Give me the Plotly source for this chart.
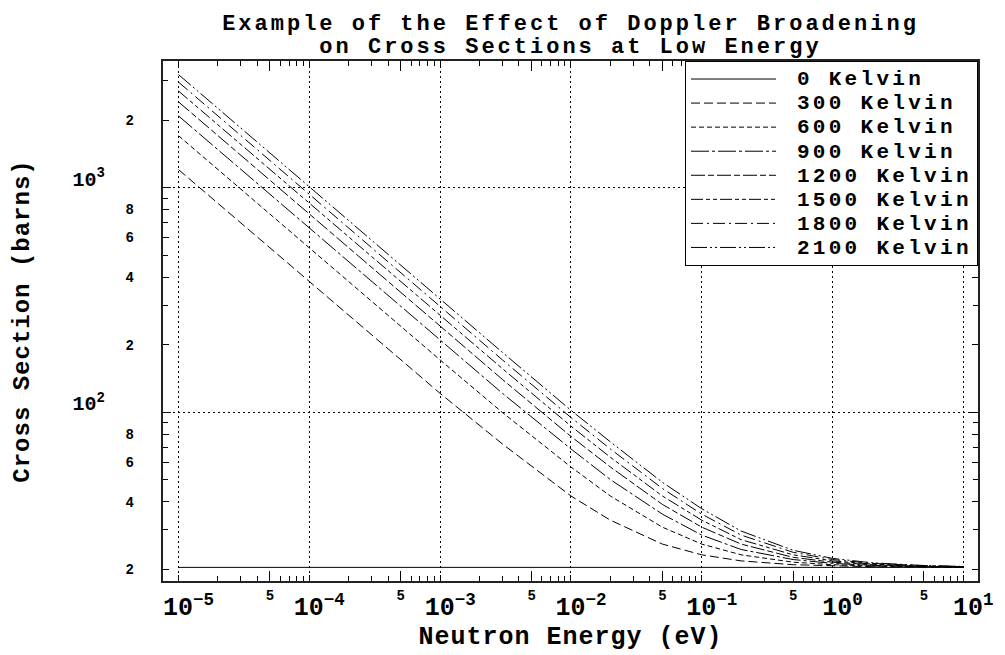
import plotly.graph_objects as go

# ---------------- data ----------------
energy_ev = [1e-5, 1e-4, 1e-3, 3e-3, 0.01, 0.02, 0.05, 0.1, 0.2, 0.5, 1, 2, 5, 10]

labels = ["0 Kelvin", "300 Kelvin", "600 Kelvin", "900 Kelvin",
          "1200 Kelvin", "1500 Kelvin", "1800 Kelvin", "2100 Kelvin"]

sig_0k = [20.4, 20.4, 20.4, 20.4, 20.4, 20.4, 20.4, 20.4, 20.4, 20.4, 20.4, 20.4, 20.4, 20.4]
sig_300k = [1204, 381.5, 121.4, 72.2, 42.4, 33.1, 25.9, 23.2, 21.8, 20.96, 20.67, 20.54, 20.45, 20.43]
sig_600k = [1704, 539, 171.0, 99.7, 57.1, 42.4, 30.8, 25.9, 23.2, 21.51, 20.96, 20.67, 20.51, 20.45]
sig_900k = [2087, 660, 209.1, 121.4, 68.7, 50.2, 35.2, 28.4, 24.5, 22.1, 21.25, 20.82, 20.57, 20.48]
sig_1200k = [2411, 762, 241.2, 139.9, 78.1, 57.1, 38.9, 30.8, 25.9, 22.6, 21.51, 20.96, 20.61, 20.51]
sig_1500k = [2695, 852, 269.7, 156.3, 86.8, 63.1, 42.4, 33.1, 27.1, 23.2, 21.8, 21.1, 20.67, 20.54]
sig_1800k = [2952, 934, 295.3, 171.0, 94.8, 68.7, 45.8, 35.2, 28.4, 23.8, 22.1, 21.25, 20.74, 20.57]
sig_2100k = [3189, 1008, 318.9, 184.6, 102.1, 73.9, 48.8, 37.2, 29.6, 24.3, 22.36, 21.38, 20.79, 20.59]

series = [sig_0k, sig_300k, sig_600k, sig_900k, sig_1200k, sig_1500k, sig_1800k, sig_2100k]

x_major_vals = [1e-5, 1e-4, 1e-3, 1e-2, 1e-1, 1, 10]
x_major_text = ["10<sup>−5</sup>", "10<sup>−4</sup>", "10<sup>−3</sup>", "10<sup>−2</sup>",
                "10<sup>−1</sup>", "10<sup>0</sup>", "10<sup>1</sup>"]
x_five_vals = [5e-5, 5e-4, 5e-3, 5e-2, 0.5, 5]
x_five_text = ["5", "5", "5", "5", "5", "5"]

y_major_vals = [100, 1000]
y_major_text = ["10<sup>2</sup>", "10<sup>3</sup>"]
y_small_vals = [20, 40, 60, 80, 200, 400, 600, 800, 2000]
y_small_text = ["2", "4", "6", "8", "2", "4", "6", "8", "2"]

title_lines = ["Example of the Effect of Doppler Broadening", "on Cross Sections at Low Energy"]
x_title = "Neutron Energy (eV)"
y_title = "Cross Section (barns)"

# ---------------- styles ----------------
FONT = "Liberation Mono"
dashes = ["solid", "9px,4px", "5px,3px", "18px,3px,3px,3px", "14px,3px,6px,3px",
          "12px,3px,4px,3px,4px,3px", "12px,4px,2px,4px", "16px,3px,2px,3px,2px,3px"]


def wide(text, size, spacing):
    return '<span style="font-size:%dpx;letter-spacing:%.1fpx">%s</span>' % (size, spacing, text)


x_range = [-5.119, 1.112]
y_range = [1.2489, 3.5644]

x_minor = [m * 10 ** d for d in range(-5, 1) for m in (2, 3, 4, 6, 7, 8, 9)]
y_minor = [m * 10 ** d for d in range(1, 4) for m in (2, 3, 4, 5, 6, 7, 8, 9)]

fig = go.Figure()
for i, (lab, sig) in enumerate(zip(labels, series)):
    kw = dict(xaxis="x2", yaxis="y2") if i == 0 else {}
    fig.add_trace(go.Scatter(
        x=energy_ev, y=sig, mode="lines",
        name=wide("\u00a0" + lab, 21, 3.3),
        line=dict(color="black", width=1, dash=dashes[i]),
        hoverinfo="skip", **kw))

axis_common = dict(type="log", ticks="inside", tickcolor="black", tickwidth=1,
                   mirror="allticks", zeroline=False, ticklabeloverflow="allow")

# the page body adds an 8px offset, so the figure is 8px smaller on each axis
fig.update_layout(
    width=997, height=647,
    margin=dict(l=149, r=13, t=53, b=73),
    paper_bgcolor="white", plot_bgcolor="white",
    font=dict(family=FONT, color="black", weight="bold"),
    showlegend=True,
    title=dict(
        text=wide(title_lines[0], 22, 3.0) + "<br>" + wide(title_lines[1], 22, 3.0),
        font=dict(family=FONT, size=18, color="black", weight="bold"),
        x=0.5, xref="paper", xanchor="center", y=0.966, yanchor="top", yref="container"),
    xaxis=dict(
        **axis_common, range=x_range,
        tickmode="array", tickvals=x_major_vals, ticktext=x_major_text,
        ticklen=6, tickfont=dict(family=FONT, size=25, weight="bold"),
        ticklabelshift=10, ticklabelstandoff=2,
        showline=True, linecolor="#222", linewidth=2,
        showgrid=True, gridcolor="black", gridwidth=1, griddash="2px,3px",
        minor=dict(ticks="inside", ticklen=5, tickcolor="black",
                   tickmode="array", tickvals=x_minor, showgrid=False),
        title=dict(text=wide(x_title, 25, 1.0),
                   font=dict(family=FONT, size=25, weight="bold"), standoff=2),
    ),
    yaxis=dict(
        **axis_common, range=y_range,
        tickmode="array", tickvals=y_major_vals, ticktext=y_major_text,
        ticklen=8, tickfont=dict(family=FONT, size=20, weight="bold"),
        ticklabelstandoff=52, ticklabelshift=-9,
        showline=True, linecolor="#222", linewidth=2,
        showgrid=True, gridcolor="black", gridwidth=1, griddash="2px,3px",
        minor=dict(ticks="inside", ticklen=5, tickcolor="black",
                   tickmode="array", tickvals=y_minor, showgrid=False),
        title=dict(text=wide(y_title, 24, 1.0),
                   font=dict(family=FONT, size=24, weight="bold"), standoff=36),
    ),
    xaxis2=dict(
        **axis_common, range=x_range, overlaying="x", anchor="y2", side="bottom",
        tickmode="array", tickvals=x_five_vals, ticktext=x_five_text,
        ticklen=10, tickfont=dict(family=FONT, size=14, weight="bold"),
        ticklabelstandoff=4, showline=False, showgrid=False,
    ),
    yaxis2=dict(
        **axis_common, range=y_range, overlaying="y", anchor="x2", side="left",
        tickmode="array", tickvals=y_small_vals, ticktext=y_small_text,
        ticklen=6, tickfont=dict(family=FONT, size=14, weight="bold"),
        ticklabelstandoff=28, showline=False, showgrid=False,
    ),
    legend=dict(
        x=1, y=1, xanchor="right", yanchor="top",
        bgcolor="white", bordercolor="black", borderwidth=1,
        font=dict(family=FONT, size=16.2, color="black", weight="bold"),
        itemwidth=85, tracegroupgap=0,
    ),
)

fig.write_html("out.html")
